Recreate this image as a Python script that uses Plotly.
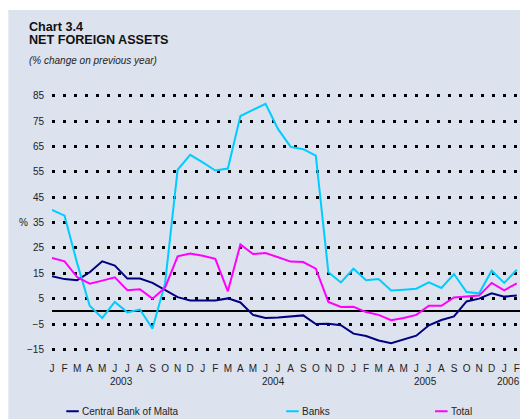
import plotly.graph_objects as go

months = ["J","F","M","A","M","J","J","A","S","O","N","D",
          "J","F","M","A","M","J","J","A","S","O","N","D",
          "J","F","M","A","M","J","J","A","S","O","N","D",
          "J","F"]
years = ["2003", "2004", "2005", "2006"]
year_pos = [5.5, 17.6, 29.75, 36.3]

cbm = [13.8, 12.7, 12.3, 15.4, 19.7, 18.0, 12.9, 12.9, 11.2, 8.5, 5.6, 4.3,
       4.3, 4.3, 5.1, 3.5, -1.4, -2.6, -2.4, -2.1, -1.6, -5.0, -4.9, -5.5,
       -8.8, -9.7, -11.5, -12.6, -11.2, -9.6, -5.5, -3.4, -2.0, 3.9, 5.0, 7.1,
       5.8, 6.2]
banks = [40.0, 37.7, 19.0, 2.2, -2.6, 3.7, -0.4, 0.7, -6.8, 11.0, 55.8, 61.7,
         58.7, 55.5, 56.3, 77.0, 79.4, 81.8, 71.8, 64.8, 63.9, 61.4, 15.4, 11.4,
         16.8, 12.3, 12.7, 8.2, 8.5, 8.9, 11.4, 9.2, 14.7, 7.6, 7.1, 16.0,
         11.2, 16.4]
total = [21.0, 19.7, 13.5, 10.9, 12.1, 13.4, 8.3, 8.7, 5.0, 9.3, 21.7, 22.8,
         21.9, 20.7, 7.9, 26.4, 22.6, 23.0, 21.3, 19.6, 19.4, 16.8, 3.7, 1.7,
         1.8, -0.3, -1.4, -3.5, -2.6, -1.4, 2.2, 2.2, 5.5, 5.9, 6.2, 11.2,
         8.3, 11.0]
ytick_vals = [-15, -5, 5, 15, 25, 35, 45, 55, 65, 75, 85]

series = [("Central Bank of Malta", cbm, "#000080"),
          ("Banks", banks, "#00CCFF"),
          ("Total", total, "#FF00FF")]

# figure drawn at page (0,0): body margin removed, white strips drawn in the figure
OFF = 0
W, H = 520, 419
L, R, T, B = 51.7, 520.0, 83.1, 357.4
step = 12.57
x_max = (R - L) / step

def px(xp):
    return (xp - OFF - L) / (R - L)

def py(yp):
    return (B - (yp - OFF)) / (B - T)

FONT = "Liberation Sans, Arial, Helvetica, sans-serif"
x = list(range(len(months)))

fig = go.Figure()
for name, vals, col in series:
    fig.add_trace(go.Scatter(x=x, y=vals, mode="lines", name=name,
                             line=dict(color=col, width=2), showlegend=False,
                             hoverinfo="skip"))

shapes = [
    dict(type="rect", xref="paper", yref="paper", x0=px(8), x1=px(530),
         y0=py(430), y1=py(10), fillcolor="#DCE2EE", line=dict(width=0),
         layer="below"),
]
annotations = [
    dict(text="<b>Chart 3.4</b>", x=px(26.5), y=py(27), xref="paper", yref="paper",
         xanchor="left", yanchor="middle", showarrow=False,
         font=dict(family=FONT, size=12.6, color="#111")),
    dict(text="<b>NET FOREIGN ASSETS</b>", x=px(26.5), y=py(40.5), xref="paper", yref="paper",
         xanchor="left", yanchor="middle", showarrow=False,
         font=dict(family=FONT, size=12.6, color="#111")),
    dict(text="<i>(% change on previous year)</i>", x=px(26.5), y=py(61), xref="paper",
         yref="paper", xanchor="left", yanchor="middle", showarrow=False,
         font=dict(family=FONT, size=10, color="#222")),
    dict(text="%", x=px(23), y=35, xref="paper", yref="y", xanchor="center",
         yanchor="middle", showarrow=False, font=dict(family=FONT, size=10, color="#222")),
]
for yr, pos in zip(years, year_pos):
    annotations.append(dict(text=yr, x=pos, y=py(382), xref="x", yref="paper",
                            xanchor="center", yanchor="middle", showarrow=False,
                            font=dict(family=FONT, size=10, color="#222")))

legend_x = [66, 286, 435]
for (name, vals, col), lx in zip(series, legend_x):
    shapes.append(dict(type="line", xref="paper", yref="paper", x0=px(lx), x1=px(lx + 12.5),
                       y0=py(411.7), y1=py(411.7), line=dict(color=col, width=2)))
    annotations.append(dict(text=name, x=px(lx + 13.5), y=py(411.7), xref="paper",
                            yref="paper", xanchor="left", yanchor="middle", showarrow=False,
                            font=dict(family=FONT, size=10, color="#222")))

fig.update_layout(
    width=W, height=H,
    margin=dict(l=L, r=W - R, t=T, b=H - B, pad=0),
    paper_bgcolor="white", plot_bgcolor="rgba(0,0,0,0)",
    shapes=shapes, annotations=annotations,
    font=dict(family=FONT, size=10, color="#222"),
)
fig.update_xaxes(range=[0, x_max], tickmode="array", tickvals=x, ticktext=months,
                 showgrid=False, zeroline=False, showline=False, ticks="",
                 ticklabelstandoff=4, tickfont=dict(family=FONT, size=10, color="#222"),
                 fixedrange=True)
fig.update_yaxes(range=[-18, 90], tickmode="array", tickvals=ytick_vals,
                 showgrid=True, gridcolor="black", gridwidth=2.6, griddash="3px,8px",
                 zeroline=True, zerolinecolor="black", zerolinewidth=2,
                 showline=False, ticks="", ticklabelstandoff=7,
                 tickfont=dict(family=FONT, size=10, color="#222"), fixedrange=True)

fig.write_html(
    "out.html",
    config={"displayModeBar": False},
    post_script="document.body.style.margin='0';"
                "document.documentElement.style.overflow='hidden';"
                "document.body.style.overflow='hidden';",
)
